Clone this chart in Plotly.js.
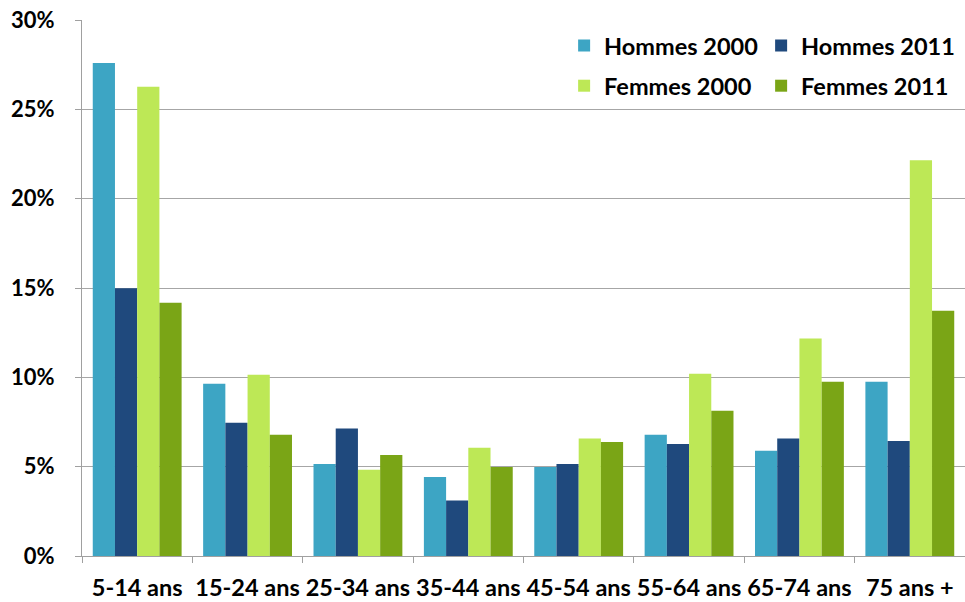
<!DOCTYPE html>
<html>
<head>
<meta charset="utf-8">
<script src="https://cdn.plot.ly/plotly-3.0.1.min.js"></script>
<style>html,body{margin:0;padding:0;background:#fff;}#chart{width:965px;height:602px;}</style>
</head>
<body>
<div id="chart"></div>
<script>
const categories = ["5-14 ans", "15-24 ans", "25-34 ans", "35-44 ans", "45-54 ans", "55-64 ans", "65-74 ans", "75 ans +"];
const hommes2000 = [27.6, 9.64, 5.15, 4.42, 4.98, 6.79, 5.89, 9.75];
const hommes2011 = [14.98, 7.46, 7.14, 3.10, 5.15, 6.27, 6.58, 6.43];
const femmes2000 = [26.27, 10.14, 4.83, 6.06, 6.58, 10.20, 12.17, 22.15];
const femmes2011 = [14.18, 6.79, 5.65, 4.98, 6.38, 8.13, 9.75, 13.73];
const seriesNames = ["Hommes 2000", "Hommes 2011", "Femmes 2000", "Femmes 2011"];
const tickVals = [0, 5, 10, 15, 20, 25, 30];
const tickText = ["0%", "5%", "10%", "15%", "20%", "25%", "30%"];

const colors = ["#3DA5C4", "#1F497D", "#BDE856", "#7AA516"];
const values = [hommes2000, hommes2011, femmes2000, femmes2011];
const legends = ["legend", "legend", "legend2", "legend2"];

const traces = values.map((v, i) => ({
  type: "bar",
  name: seriesNames[i],
  x: categories,
  y: v,
  marker: {color: colors[i], line: {width: 0}},
  legend: legends[i],
  hoverinfo: "skip"
}));

const font = {family: "Lato, 'Open Sans', sans-serif", size: 22, color: "#000"};
const legendCommon = {
  orientation: "h",
  xref: "paper", yref: "paper",
  xanchor: "left", yanchor: "middle",
  bgcolor: "rgba(255,255,255,1)",
  borderwidth: 0,
  font: {family: "Lato, sans-serif", size: 23.5, color: "#000", weight: "bold"},
  entrywidth: 152,
  traceorder: "normal"
};

const layout = {
  width: 965, height: 602,
  margin: {l: 82, r: 0, t: 20, b: 46, autoexpand: false},
  paper_bgcolor: "#fff", plot_bgcolor: "#fff",
  font: font,
  barmode: "group",
  bargap: 0.195,
  bargroupgap: 0,
  showlegend: true,
  legend: Object.assign({}, legendCommon, {x: 0.546, y: 0.952}),
  legend2: Object.assign({}, legendCommon, {x: 0.546, y: 0.877}),
  xaxis: {
    type: "category",
    automargin: false,
    tickangle: 0,
    tickson: "boundaries",
    ticks: "outside", ticklen: 6, tickcolor: "#A0A0A0", tickwidth: 1,
    showline: true, linecolor: "#A0A0A0", linewidth: 1,
    showgrid: false,
    tickfont: {family: "Lato, sans-serif", size: 23.5, color: "#000", weight: "bold"},
    ticklabelstandoff: 11,
    fixedrange: true
  },
  yaxis: {
    range: [0, 30],
    automargin: false,
    tickvals: tickVals, ticktext: tickText,
    ticks: "outside", ticklen: 6, tickcolor: "#A0A0A0", tickwidth: 1,
    showline: true, linecolor: "#A0A0A0", linewidth: 1,
    showgrid: true, gridcolor: "#A6A6A6", gridwidth: 1,
    zeroline: false,
    tickfont: {family: "Lato, sans-serif", size: 22, color: "#000", weight: "bold"},
    ticklabelstandoff: 16,
    fixedrange: true
  }
};

Plotly.newPlot("chart", traces, layout, {displayModeBar: false, staticPlot: true});
</script>
</body>
</html>
